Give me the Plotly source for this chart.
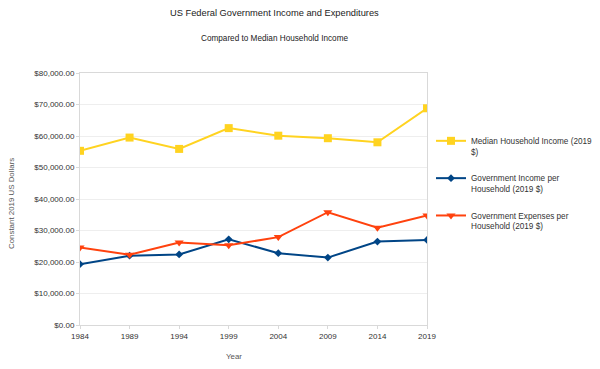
import plotly.graph_objects as go

years = [1984, 1989, 1994, 1999, 2004, 2009, 2014, 2019]
median_income = [55300, 59500, 55900, 62500, 60100, 59300, 58000, 68800]
gov_income = [19300, 22000, 22400, 27200, 22800, 21400, 26500, 27000]
gov_expenses = [24600, 22300, 26200, 25300, 27900, 35800, 30900, 34800]

names = ["Median Household Income (2019<br>$)",
         "Government Income per<br>Household (2019 $)",
         "Government Expenses per<br>Household (2019 $)"]
colors = ["#FFD320", "#004586", "#FF420E"]
symbols = ["square", "diamond", "triangle-down"]
msizes = [8, 6, 8]

fig = go.Figure()
for i, ys in enumerate([median_income, gov_income, gov_expenses]):
    fig.add_trace(go.Scatter(
        x=years, y=ys, mode="lines+markers", name=names[i],
        legendgroup=f"g{i}",
        line=dict(color=colors[i], width=2),
        marker=dict(symbol=symbols[i], size=msizes[i], color=colors[i]),
    ))

# page body has an 8px margin; work in figure pixels = screen - 8
OFF = 8
W, H = 600 - OFF, 369 - OFF
L, R, T, B = 80 - OFF, 427 - OFF, 73 - OFF, 325 - OFF
pw, ph = R - L, B - T

def px(x):
    return (x - OFF - L) / pw

def py(y):
    return (B - (y - OFF)) / ph

fig.update_layout(
    width=W, height=H,
    margin=dict(l=L, r=W - R, t=T, b=H - B, autoexpand=False),
    paper_bgcolor="white", plot_bgcolor="white",
    font=dict(family="Liberation Sans, Arial, sans-serif", size=8, color="#333333"),
    annotations=[
        dict(text="US Federal Government Income and Expenditures", xref="paper", yref="paper",
             x=px(274), y=py(13), xanchor="center", yanchor="middle",
             showarrow=False, font=dict(size=9.3, color="#222222")),
        dict(text="Compared to Median Household Income", xref="paper", yref="paper",
             x=px(274), y=py(38), xanchor="center", yanchor="middle",
             showarrow=False, font=dict(size=8.2, color="#222222")),
        dict(text="Constant 2019 US Dollars", xref="paper", yref="paper",
             x=px(12), y=py(204), xanchor="center", yanchor="middle",
             textangle=-90, showarrow=False, font=dict(size=7.9, color="#555555")),
        dict(text="Year", xref="paper", yref="paper",
             x=px(234), y=py(356), xanchor="center", yanchor="middle",
             showarrow=False, font=dict(size=7.9, color="#555555")),
    ],
    legend=dict(x=px(431), y=py(129), xanchor="left", yanchor="top",
                font=dict(size=8.2, color="#333333"), tracegroupgap=13,
                valign="top", itemwidth=30,
                bgcolor="rgba(0,0,0,0)"),
    xaxis=dict(range=[1984, 2019], tickvals=years, showgrid=False,
               showline=True, linecolor="#d9d9d9", mirror=True,
               ticks="outside", ticklen=3, tickcolor="#d9d9d9",
               zeroline=False, automargin=False),
    yaxis=dict(range=[0, 80000], dtick=10000, tickformat="$,.2f",
               showgrid=True, gridcolor="#eeeeee", showline=True, linecolor="#d9d9d9",
               mirror=True, ticks="outside", ticklen=3, tickcolor="#d9d9d9",
               zeroline=False, automargin=False),
)

fig.write_html("out.html")
